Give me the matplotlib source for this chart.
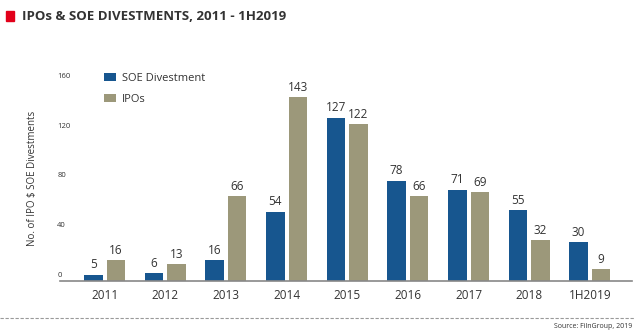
import matplotlib.pyplot as plt
import numpy as np
from matplotlib.patches import Rectangle
from matplotlib.lines import Line2D
import matplotlib.transforms as mtransforms

years = ['2011', '2012', '2013', '2014', '2015', '2016', '2017', '2018', '1H2019']
soe = [5, 6, 16, 54, 127, 78, 71, 55, 30]
ipos = [16, 13, 66, 143, 122, 66, 69, 32, 9]
yticks = [0, 40, 80, 120, 160]

BLUE = '#17568f'
KHAKI = '#9c987a'
TXT = '#333333'

plt.rcParams['font.family'] = ['Open Sans', 'DejaVu Sans']

fig = plt.figure(figsize=(6.4, 3.35), dpi=100)
ax = fig.add_axes([0.094, 0.161, 0.894, 0.615])

x = np.arange(len(years))
w = 0.305
gap = 0.033
b1 = ax.bar(x - w / 2 - gap, soe, w, color=BLUE, label='SOE Divestment', zorder=2)
b2 = ax.bar(x + w / 2 + gap, ipos, w, color=KHAKI, label='IPOs', zorder=2)

for bars, vals in ((b1, soe), (b2, ipos)):
    for r, v in zip(bars, vals):
        ax.text(r.get_x() + r.get_width() / 2, v + 2.5, str(v), ha='center', va='bottom',
                fontsize=8.5, color=TXT, clip_on=False)

ax.set_xlim(-0.734, 8.70)
ax.set_ylim(0, 160)
ax.set_xticks(x)
ax.set_xticklabels(years, fontsize=8.5, color=TXT)
ax.tick_params(axis='x', length=0, pad=6)
ax.set_yticks([])
trans = mtransforms.blended_transform_factory(ax.transAxes, ax.transData)
for t in yticks:
    ax.text(-0.005, t + 4 - t * 0.03, str(t), transform=trans, ha='left', va='center',
            fontsize=5.5, color=TXT)

for s in ['top', 'right', 'left']:
    ax.spines[s].set_visible(False)
ax.spines['bottom'].set_color('#888888')
ax.spines['bottom'].set_linewidth(1.2)

ax.set_ylabel('No. of IPO $ SOE Divestments', fontsize=7, color=TXT, labelpad=16)

ax.legend(loc='upper left', bbox_to_anchor=(0.06, 1.06), frameon=False, fontsize=8,
          handlelength=1.0, handleheight=0.8, handletextpad=0.6, labelspacing=0.9,
          labelcolor=TXT)

# title
fig.patches.append(Rectangle((6 / 640, 1 - 21 / 335), 8 / 640, 10 / 335,
                             transform=fig.transFigure, color='#e2001a'))
fig.text(22 / 640, 1 - 16 / 335, 'IPOs & SOE DIVESTMENTS, 2011 - 1H2019', fontsize=9.5,
         fontweight='bold', color=TXT, va='center')

# footer
fig.lines.append(Line2D([0, 635 / 640], [1 - 318 / 335, 1 - 318 / 335], transform=fig.transFigure,
                        color='#999999', linewidth=0.8, linestyle=(0, (3, 1.5))))
fig.text(632 / 640, 1 - 326 / 335, 'Source: FilnGroup, 2019', fontsize=5, color=TXT,
         ha='right', va='center')

fig.savefig('out.png', dpi=100)
